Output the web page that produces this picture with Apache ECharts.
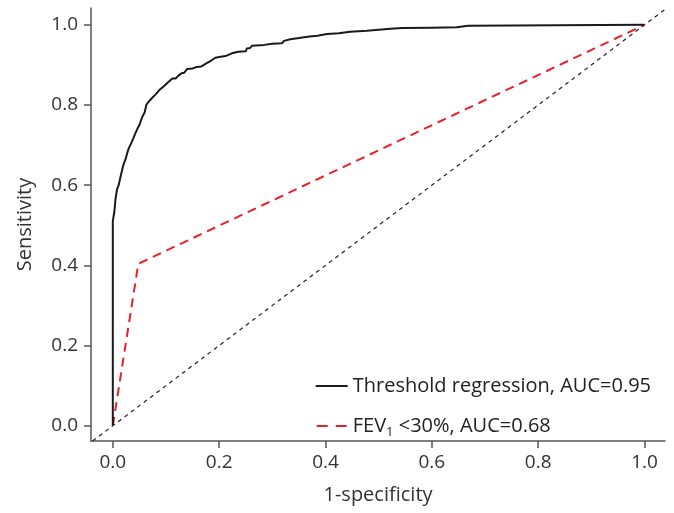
<!DOCTYPE html>
<html>
<head>
<meta charset="utf-8">
<script src="https://cdn.jsdelivr.net/npm/echarts@6/dist/echarts.min.js"></script>
<style>
  html, body { margin: 0; padding: 0; background: #fff; }
  #chart { width: 674px; height: 513px; }
</style>
</head>
<body>
<div id="chart"></div>
<script>
// ROC curve, threshold regression
const rocX = [0, 0, 0.003, 0.005, 0.008, 0.011, 0.014, 0.017, 0.020, 0.024, 0.027, 0.030, 0.034, 0.038,
  0.042, 0.046, 0.050, 0.053, 0.056, 0.060, 0.063, 0.066, 0.072, 0.080, 0.088, 0.096, 0.104, 0.112,
  0.118, 0.124, 0.130, 0.134, 0.140, 0.150, 0.158, 0.166, 0.175, 0.185, 0.193, 0.200, 0.212, 0.224,
  0.236, 0.250, 0.252, 0.258, 0.262, 0.285, 0.300, 0.318, 0.322, 0.334, 0.350, 0.370, 0.385, 0.403,
  0.425, 0.446, 0.478, 0.480, 0.522, 0.545, 0.600, 0.647, 0.650, 0.668, 0.670, 1.0];
const rocY = [0, 0.51, 0.535, 0.565, 0.59, 0.60, 0.618, 0.635, 0.651, 0.665, 0.680, 0.692, 0.703, 0.715,
  0.728, 0.740, 0.750, 0.762, 0.772, 0.782, 0.800, 0.806, 0.815, 0.826, 0.838, 0.847, 0.857, 0.866,
  0.866, 0.874, 0.880, 0.880, 0.890, 0.891, 0.895, 0.896, 0.903, 0.911, 0.918, 0.920, 0.922, 0.929,
  0.933, 0.934, 0.941, 0.942, 0.948, 0.950, 0.953, 0.954, 0.960, 0.964, 0.967, 0.971, 0.973, 0.977,
  0.979, 0.983, 0.985, 0.988, 0.990, 0.992, 0.993, 0.994, 0.998, 0.998, 1.0, 1.0];

// FEV1 <30% single cut-off
const fevX = [0, 0.048, 1.0];
const fevY = [0, 0.404, 1.0];

// chance line
const chanceX = [-0.05, 1.05];
const chanceY = [-0.05, 1.05];

const tickValues = [0, 0.2, 0.4, 0.6, 0.8, 1.0];
const seriesNames = ["Threshold regression, AUC=0.95", "FEV1 <30%, AUC=0.68"];

const zip = (xs, ys) => xs.map((x, i) => [x, ys[i]]);
const FONT = "Open Sans";

const axisCommon = {
  type: "value",
  nameLocation: "middle",
  nameTextStyle: { fontSize: 20, color: "#333", fontFamily: FONT },
  axisLine: { show: true, onZero: false, lineStyle: { color: "#555", width: 1.5 } },
  axisTick: { show: true, length: 7, customValues: tickValues, lineStyle: { color: "#555", width: 1.5 } },
  axisLabel: {
    customValues: tickValues,
    formatter: (v) => v.toFixed(1),
    fontSize: 19,
    color: "#333",
    fontFamily: FONT,
  },
  splitLine: { show: false },
};

let myChart = echarts.init(document.getElementById("chart"));
myChart.setOption({
  animation: false,
  grid: { left: 91, top: 8, right: 9, bottom: 72 },
  xAxis: Object.assign({}, axisCommon, {
    name: "1-specificity",
    nameGap: 44,
    min: -0.041,
    max: 1.0385,
    axisLabel: Object.assign({}, axisCommon.axisLabel, { margin: 12 }),
  }),
  yAxis: Object.assign({}, axisCommon, {
    name: "Sensitivity",
    nameGap: 56,
    min: -0.038,
    max: 1.042,
    axisLabel: Object.assign({}, axisCommon.axisLabel, { margin: 13 }),
  }),
  legend: {
    data: [
      { name: seriesNames[0], icon: "path://M0,0H32V2H0Z" },
      { name: seriesNames[1], icon: "path://M0,0H11V2H0Z M19,0H30V2H19Z" },
    ],
    orient: "vertical",
    right: 18,
    top: 371,
    itemWidth: 32,
    itemHeight: 2,
    itemGap: 20,
    formatter: (name) =>
      name.startsWith("FEV1") ? "{t|FEV}{s|1}{t| <30%, AUC=0.68}" : "{t|" + name + "}",
    textStyle: {
      rich: {
        t: { fontSize: 20, color: "#222", fontFamily: FONT, lineHeight: 26 },
        s: { fontSize: 13, color: "#222", fontFamily: FONT, lineHeight: 26, verticalAlign: "bottom" },
      },
    },
  },
  series: [
    {
      name: "chance",
      type: "line",
      data: zip(chanceX, chanceY),
      symbol: "none",
      silent: true,
      lineStyle: { color: "#222", width: 1.2, type: [4, 4] },
      z: 1,
    },
    {
      name: seriesNames[1],
      type: "line",
      data: zip(fevX, fevY),
      symbol: "none",
      lineStyle: { color: "#e8202a", width: 2, type: [9, 6] },
      itemStyle: { color: "#e8202a" },
      z: 2,
    },
    {
      name: seriesNames[0],
      type: "line",
      data: zip(rocX, rocY),
      symbol: "none",
      lineStyle: { color: "#1a1a1a", width: 2 },
      itemStyle: { color: "#1a1a1a" },
      z: 3,
    },
  ],
});
</script>
</body>
</html>
